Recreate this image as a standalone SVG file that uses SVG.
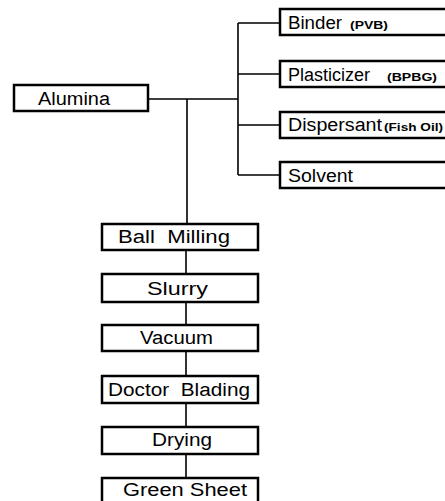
<svg xmlns="http://www.w3.org/2000/svg" width="445" height="501" viewBox="0 0 445 501">
<style>
.box{fill:#fff;stroke:#000;stroke-width:2.5}
.ln{fill:none;stroke:#000;stroke-width:1.6}
.t{font-family:"Liberation Sans","DejaVu Sans",sans-serif;font-size:18px;fill:#000}
.s{font-family:"Liberation Sans","DejaVu Sans",sans-serif;font-size:11px;font-weight:bold;fill:#000}
</style>
<rect width="445" height="501" fill="#fff"/>
<g id="connectors">
<path class="ln" d="M148 99H238M238 23V175M238 23H280M238 74H280M238 125H280M238 175H280M187 99V224M186 250V274M186 302V325M186 351V376M186 403V427M186 454V478"/>
</g>
<g id="alumina"><rect class="box" x="14" y="85" width="134" height="26"/><text class="t" x="38" y="105" textLength="72" lengthAdjust="spacingAndGlyphs">Alumina</text></g>
<g id="binder"><rect class="box" x="280" y="9" width="170" height="26"/><text class="t" x="288" y="29" textLength="54" lengthAdjust="spacingAndGlyphs">Binder</text><text class="s" x="350" y="29" textLength="38" lengthAdjust="spacingAndGlyphs">(PVB)</text></g>
<g id="plasticizer"><rect class="box" x="280" y="61" width="170" height="26"/><text class="t" x="288" y="81" textLength="82" lengthAdjust="spacingAndGlyphs">Plasticizer</text><text class="s" x="387" y="81" textLength="50" lengthAdjust="spacingAndGlyphs">(BPBG)</text></g>
<g id="dispersant"><rect class="box" x="280" y="112" width="170" height="26"/><text class="t" x="288" y="131" textLength="94" lengthAdjust="spacingAndGlyphs">Dispersant</text><text class="s" x="384" y="131" textLength="59" lengthAdjust="spacingAndGlyphs">(Fish Oil)</text></g>
<g id="solvent"><rect class="box" x="280" y="162" width="170" height="26"/><text class="t" x="288" y="182" textLength="65" lengthAdjust="spacingAndGlyphs">Solvent</text></g>
<g id="ball-milling"><rect class="box" x="102" y="224" width="156" height="26"/><text class="t" x="118" y="243" textLength="112" lengthAdjust="spacingAndGlyphs" xml:space="preserve">Ball  Milling</text></g>
<g id="slurry"><rect class="box" x="102" y="274" width="156" height="28"/><text class="t" x="147" y="295" textLength="61" lengthAdjust="spacingAndGlyphs">Slurry</text></g>
<g id="vacuum"><rect class="box" x="102" y="325" width="156" height="26"/><text class="t" x="140" y="344" textLength="73" lengthAdjust="spacingAndGlyphs">Vacuum</text></g>
<g id="doctor-blading"><rect class="box" x="102" y="376" width="156" height="27"/><text class="t" x="108" y="396" textLength="142" lengthAdjust="spacingAndGlyphs" xml:space="preserve">Doctor  Blading</text></g>
<g id="drying"><rect class="box" x="102" y="427" width="156" height="27"/><text class="t" x="152" y="446" textLength="60" lengthAdjust="spacingAndGlyphs">Drying</text></g>
<g id="green-sheet"><rect class="box" x="102" y="478" width="156" height="30"/><text class="t" x="123" y="496" textLength="124" lengthAdjust="spacingAndGlyphs">Green Sheet</text></g>
</svg>
